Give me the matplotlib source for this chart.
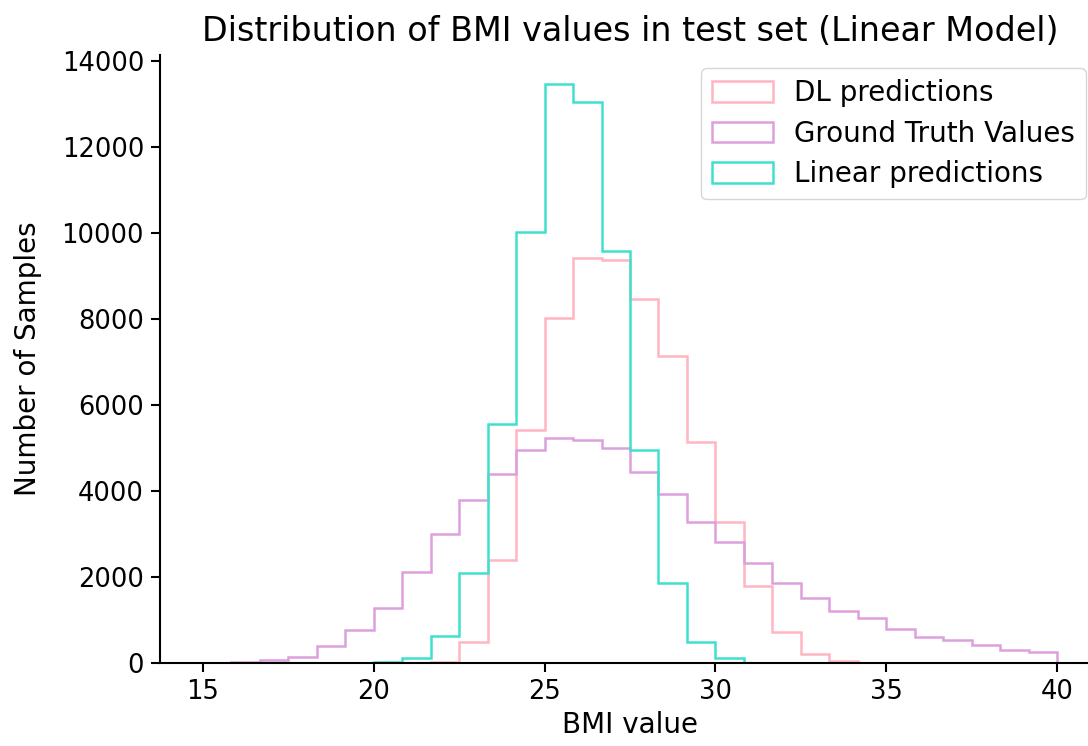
import numpy as np
import matplotlib
matplotlib.use("Agg")
import matplotlib.pyplot as plt

# 30 bins of BMI between 15 and 40
bin_edges = np.linspace(15, 40, 31)
bin_mids = (bin_edges[:-1] + bin_edges[1:]) / 2

dl_counts = [0, 0, 0, 0, 0, 0, 0, 5, 30, 490, 2400, 5420, 8030, 9430, 9370,
             8460, 7150, 5130, 3270, 1780, 730, 210, 50, 5, 0, 0, 0, 0, 0, 0]
gt_counts = [5, 20, 70, 135, 400, 760, 1280, 2110, 2990, 3790, 4400, 4950, 5240,
             5190, 4990, 4450, 3920, 3290, 2820, 2320, 1850, 1510, 1210, 1040,
             785, 612, 535, 420, 302, 250]
lin_counts = [0, 0, 0, 0, 0, 0, 20, 115, 635, 2090, 5560, 10030, 13470, 13050,
              9580, 4950, 1860, 490, 110, 10, 3, 0, 0, 0, 0, 0, 0, 0, 0, 0]

labels = ["DL predictions", "Ground Truth Values", "Linear predictions"]
colours = ["lightpink", "plum", "turquoise"]

fig = plt.figure(figsize=(10.88, 7.46), dpi=100)
ax = fig.add_axes([160 / 1088, 83 / 746, 940 / 1088, 608 / 746])

# step histograms from the binned counts
for counts, lab, col in zip([dl_counts, gt_counts, lin_counts], labels, colours):
    ax.hist(bin_mids, bins=bin_edges, weights=counts, histtype="step",
            color=col, linewidth=1.8, label=lab)

ax.set_xlim(13.75, 41.25)
ax.set_ylim(0, 14144)
ax.set_xticks([15, 20, 25, 30, 35, 40])
ax.set_yticks(range(0, 14001, 2000))
ax.tick_params(labelsize=18.5, width=1.5, length=6.5, pad=5)
for s in ["top", "right"]:
    ax.spines[s].set_visible(False)
for s in ["left", "bottom"]:
    ax.spines[s].set_linewidth(1.5)

ax.set_title("Distribution of BMI values in test set (Linear Model)", fontsize=24, pad=10)
ax.set_xlabel("BMI value", fontsize=20, labelpad=4)
ax.set_ylabel("Number of Samples", fontsize=20, labelpad=14)
ax.legend(loc="upper right", fontsize=20, bbox_to_anchor=(1086 / 1088, 1 - 68 / 746),
          bbox_transform=fig.transFigure, borderaxespad=0,
          handlelength=2.2, handleheight=0.75, handletextpad=0.75,
          labelspacing=0.45, borderpad=0.4)

fig.savefig("out.png", dpi=100)
